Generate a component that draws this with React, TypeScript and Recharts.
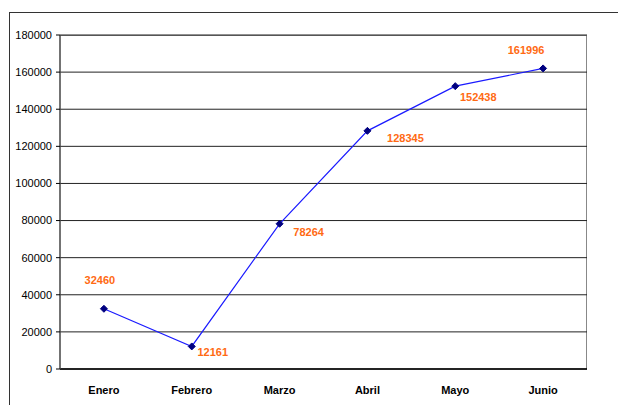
import React from 'react';
import { LineChart, Line, XAxis, YAxis, CartesianGrid, LabelList } from 'recharts';

// Datos de la gráfica
const months = ['Enero', 'Febrero', 'Marzo', 'Abril', 'Mayo', 'Junio'];
const visits = [32460, 12161, 78264, 128345, 152438, 161996];
const yTicks = [0, 20000, 40000, 60000, 80000, 100000, 120000, 140000, 160000, 180000];
const boundaryTicks = [0, 1, 2, 3, 4, 5, 6];

// desplazamiento de cada etiqueta respecto a su punto
const labelOffsets = [
  [-4, -29],
  [21, 6],
  [29, 8],
  [38, 7],
  [23, 11],
  [-17, -18],
];

const data = months.map((m, i) => ({ mes: m, valor: visits[i], pos: i + 0.5 }));

const FONT = '"Liberation Sans Narrow", "Arial Narrow", "Liberation Sans", Arial, sans-serif';

const Diamond = (props: any) => {
  const { cx, cy } = props;
  if (cx == null || cy == null) return null;
  const r = 3.5;
  return (
    <polygon
      points={`${cx},${cy - r} ${cx + r},${cy} ${cx},${cy + r} ${cx - r},${cy}`}
      fill="#000080"
      stroke="#000080"
      strokeWidth={1}
    />
  );
};

const ValueLabel = (props: any) => {
  const { x, y, value, index } = props;
  const [dx, dy] = labelOffsets[index] || [0, 0];
  return (
    <text
      x={x + dx}
      y={y + dy}
      textAnchor="middle"
      dominantBaseline="central"
      fill="#FF6A13"
      fontWeight="bold"
      fontSize={11}
      fontFamily={FONT}
    >
      {value}
    </text>
  );
};

export default function App() {
  return (
    <div style={{ position: 'absolute', left: 0, top: 0, width: 618, height: 405, overflow: 'hidden', background: '#fff' }}>
      {/* marco exterior */}
      <div
        style={{
          position: 'absolute',
          left: 9,
          top: 12,
          width: 700,
          height: 500,
          borderLeft: '1.5px solid #333',
          borderTop: '1.5px solid #333',
        }}
      />
      {/* borde del área de trazado */}
      <div
        style={{
          position: 'absolute',
          left: 60,
          top: 35,
          width: 527,
          height: 334,
          boxSizing: 'border-box',
          borderTop: '1px solid #888',
          borderRight: '1px solid #888',
        }}
      />
      <div style={{ position: 'absolute', left: 0, top: 0 }}>
        <LineChart
          width={618}
          height={405}
          data={data}
          margin={{ top: 35, right: 31, bottom: 6, left: 0 }}
        >
          <CartesianGrid horizontal vertical={false} stroke="#222" strokeWidth={1} yAxisId="y" xAxisId="cat" />
          <XAxis
            xAxisId="bnd"
            dataKey="pos"
            type="number"
            domain={[0, 6]}
            ticks={boundaryTicks}
            tick={false}
            tickSize={5}
            height={5}
            axisLine={{ stroke: '#000', strokeWidth: 1.5 }}
            tickLine={{ stroke: '#000' }}
          />
          <XAxis
            xAxisId="cat"
            dataKey="mes"
            scale="band"
            height={25}
            axisLine={false}
            tickLine={false}
            tick={{ fill: '#000', fontSize: 11, fontWeight: 'bold', fontFamily: FONT }}
            tickMargin={6}
            interval={0}
          />
          <YAxis
            yAxisId="y"
            width={60}
            domain={[0, 180000]}
            ticks={yTicks}
            tickSize={4}
            tickMargin={4}
            axisLine={{ stroke: '#444', strokeWidth: 1.5 }}
            tickLine={{ stroke: '#000' }}
            tick={{ fill: '#000', fontSize: 11, fontFamily: FONT }}
            interval={0}
          />
          <Line
            xAxisId="cat"
            yAxisId="y"
            type="linear"
            dataKey="valor"
            stroke="#1a1aff"
            strokeWidth={1.2}
            dot={<Diamond />}
            activeDot={false}
            isAnimationActive={false}
          >
            <LabelList dataKey="valor" content={<ValueLabel />} />
          </Line>
        </LineChart>
      </div>
    </div>
  );
}
